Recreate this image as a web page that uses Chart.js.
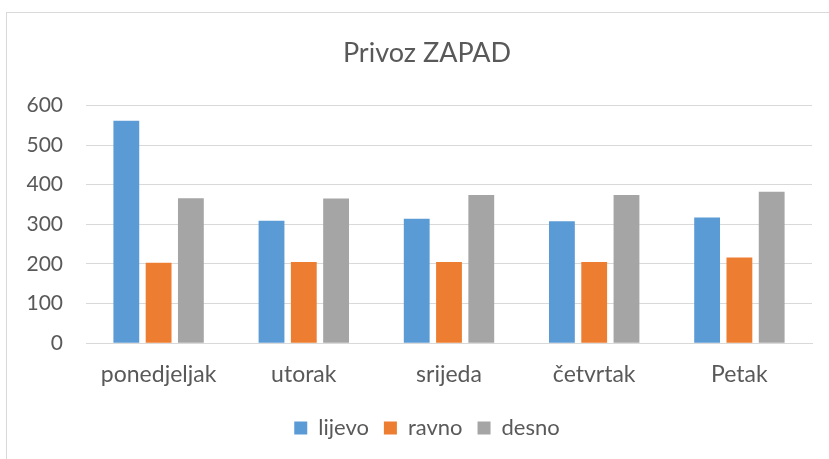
<!DOCTYPE html>
<html>
<head>
<meta charset="utf-8">
<script src="https://cdn.jsdelivr.net/npm/chart.js@4"></script>
<style>
  html, body { margin: 0; padding: 0; background: #ffffff; overflow: hidden; width: 829px; height: 459px; }
  #frame { position: absolute; left: 6px; top: 12px; width: 840px; height: 460px;
           border-left: 1px solid #d9d9d9; border-top: 1px solid #d9d9d9; }
  #c { position: absolute; left: 0; top: 0; }
</style>
</head>
<body>
<div id="frame"></div>
<canvas id="c" width="854" height="459"></canvas>
<script>
const title = 'Privoz ZAPAD';
const categories = ['ponedjeljak', 'utorak', 'srijeda', 'četvrtak', 'Petak'];
const seriesNames = ['lijevo', 'ravno', 'desno'];
const lijevo = [561, 309, 314, 308, 317];
const ravno = [203, 205, 205, 205, 216];
const desno = [366, 365, 374, 374, 382];
const yMin = 0, yMax = 600, yStep = 100;

const colors = ['#5B9BD5', '#ED7D31', '#A5A5A5'];
const textColor = '#595959';
const fontFamily = 'Lato, "Open Sans", sans-serif';

new Chart(document.getElementById('c'), {
  type: 'bar',
  data: {
    labels: categories,
    datasets: [lijevo, ravno, desno].map((d, i) => ({
      label: seriesNames[i],
      data: d,
      backgroundColor: colors[i],
      borderWidth: 0,
      categoryPercentage: 0.667,
      barPercentage: 0.8
    }))
  },
  options: {
    responsive: false,
    animation: false,
    layout: { padding: { left: 0, right: 0, top: 0, bottom: 10 } },
    plugins: {
      title: {
        display: true, text: title, color: textColor,
        font: { family: fontFamily, size: 27, weight: 'normal' },
        padding: { top: 37, bottom: 36 }
      },
      legend: {
        position: 'bottom',
        labels: {
          boxWidth: 13, boxHeight: 13, padding: 15, color: textColor,
          font: { family: fontFamily, size: 22 }
        }
      },
      tooltip: { enabled: false }
    },
    scales: {
      x: {
        grid: { display: false, drawTicks: false },
        border: { display: true, color: '#d9d9d9', width: 1 },
        ticks: { color: textColor, font: { family: fontFamily, size: 23 }, padding: 18 },
        afterFit: (s) => { s.height = 58.8; }
      },
      y: {
        min: yMin, max: yMax,
        grid: { color: '#d9d9d9', lineWidth: 1, drawTicks: false },
        border: { display: false },
        ticks: { stepSize: yStep, color: textColor, font: { family: fontFamily, size: 21 }, padding: 23 },
        afterFit: (s) => { s.width = 86; }
      },
      ySpacer: {
        position: 'right',
        min: yMin, max: yMax,
        grid: { display: false, drawTicks: false },
        border: { display: false },
        ticks: { display: false },
        afterFit: (s) => { s.width = 42; }
      }
    }
  }
});
</script>
</body>
</html>
